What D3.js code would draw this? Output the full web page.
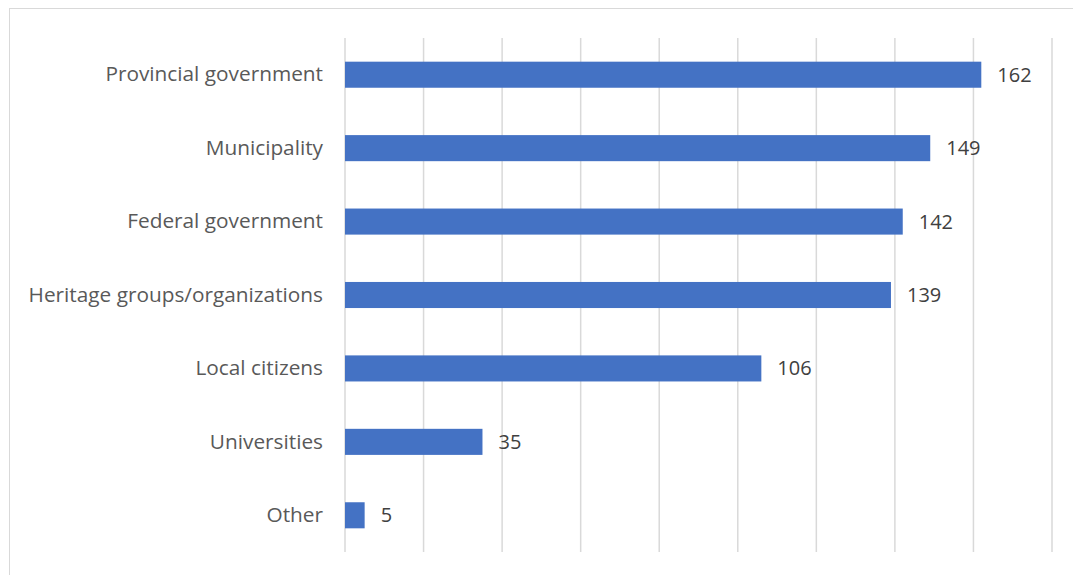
<!DOCTYPE html>
<html>
<head>
<meta charset="utf-8">
<script src="https://cdn.jsdelivr.net/npm/d3@7"></script>
<style>
  html, body { margin: 0; padding: 0; background: #fff; }
  svg { display: block; }
</style>
</head>
<body>
<svg id="chart" width="1073" height="575"></svg>
<script>
// Respondent categories, top to bottom, with their counts
const categories = [
  "Provincial government",
  "Municipality",
  "Federal government",
  "Heritage groups/organizations",
  "Local citizens",
  "Universities",
  "Other"
];
const counts = [162, 149, 142, 139, 106, 35, 5];
const gridTicks = [0, 20, 40, 60, 80, 100, 120, 140, 160, 180];

const data = categories.map((c, i) => ({ category: c, value: counts[i] }));

const svg = d3.select("#chart");
const W = 1073, H = 575;
const margin = { top: 38, right: 21, bottom: 23, left: 345 };
const fontFamily = "'Open Sans', 'Liberation Sans', sans-serif";

// Outer frame of the chart area
svg.append("rect")
  .attr("x", 9.5).attr("y", 8.5)
  .attr("width", W + 10).attr("height", H + 10)
  .attr("fill", "none")
  .attr("stroke", "#d9d9d9")
  .attr("stroke-width", 1);

const x = d3.scaleLinear()
  .domain([0, 180])
  .range([margin.left, W - margin.right]);

const y = d3.scaleBand()
  .domain(categories)
  .range([margin.top, H - margin.bottom])
  .paddingInner(0.645)
  .paddingOuter(0.3225);

// Vertical gridlines
svg.append("g")
  .selectAll("line")
  .data(gridTicks)
  .join("line")
  .attr("x1", d => x(d)).attr("x2", d => x(d))
  .attr("y1", margin.top).attr("y2", H - margin.bottom)
  .attr("stroke", "#d9d9d9")
  .attr("stroke-width", 1.5);

// Bars
svg.append("g")
  .selectAll("rect")
  .data(data)
  .join("rect")
  .attr("x", x(0))
  .attr("y", d => y(d.category))
  .attr("width", d => x(d.value) - x(0))
  .attr("height", y.bandwidth())
  .attr("fill", "#4472c4");

// Category axis labels
const yAxis = d3.axisLeft(y).tickSize(0).tickPadding(22);
const gy = svg.append("g")
  .attr("transform", `translate(${x(0)},0)`)
  .call(yAxis);
gy.select(".domain").remove();
gy.selectAll("text")
  .attr("fill", "#595959")
  .style("font-family", fontFamily)
  .style("font-size", "20.8px");

// Value labels
svg.append("g")
  .selectAll("text")
  .data(data)
  .join("text")
  .attr("x", d => x(d.value) + 16)
  .attr("y", d => y(d.category) + y.bandwidth() / 2)
  .attr("dy", "0.35em")
  .attr("fill", "#404040")
  .style("font-family", fontFamily)
  .style("font-size", "20px")
  .text(d => d.value);
</script>
</body>
</html>
